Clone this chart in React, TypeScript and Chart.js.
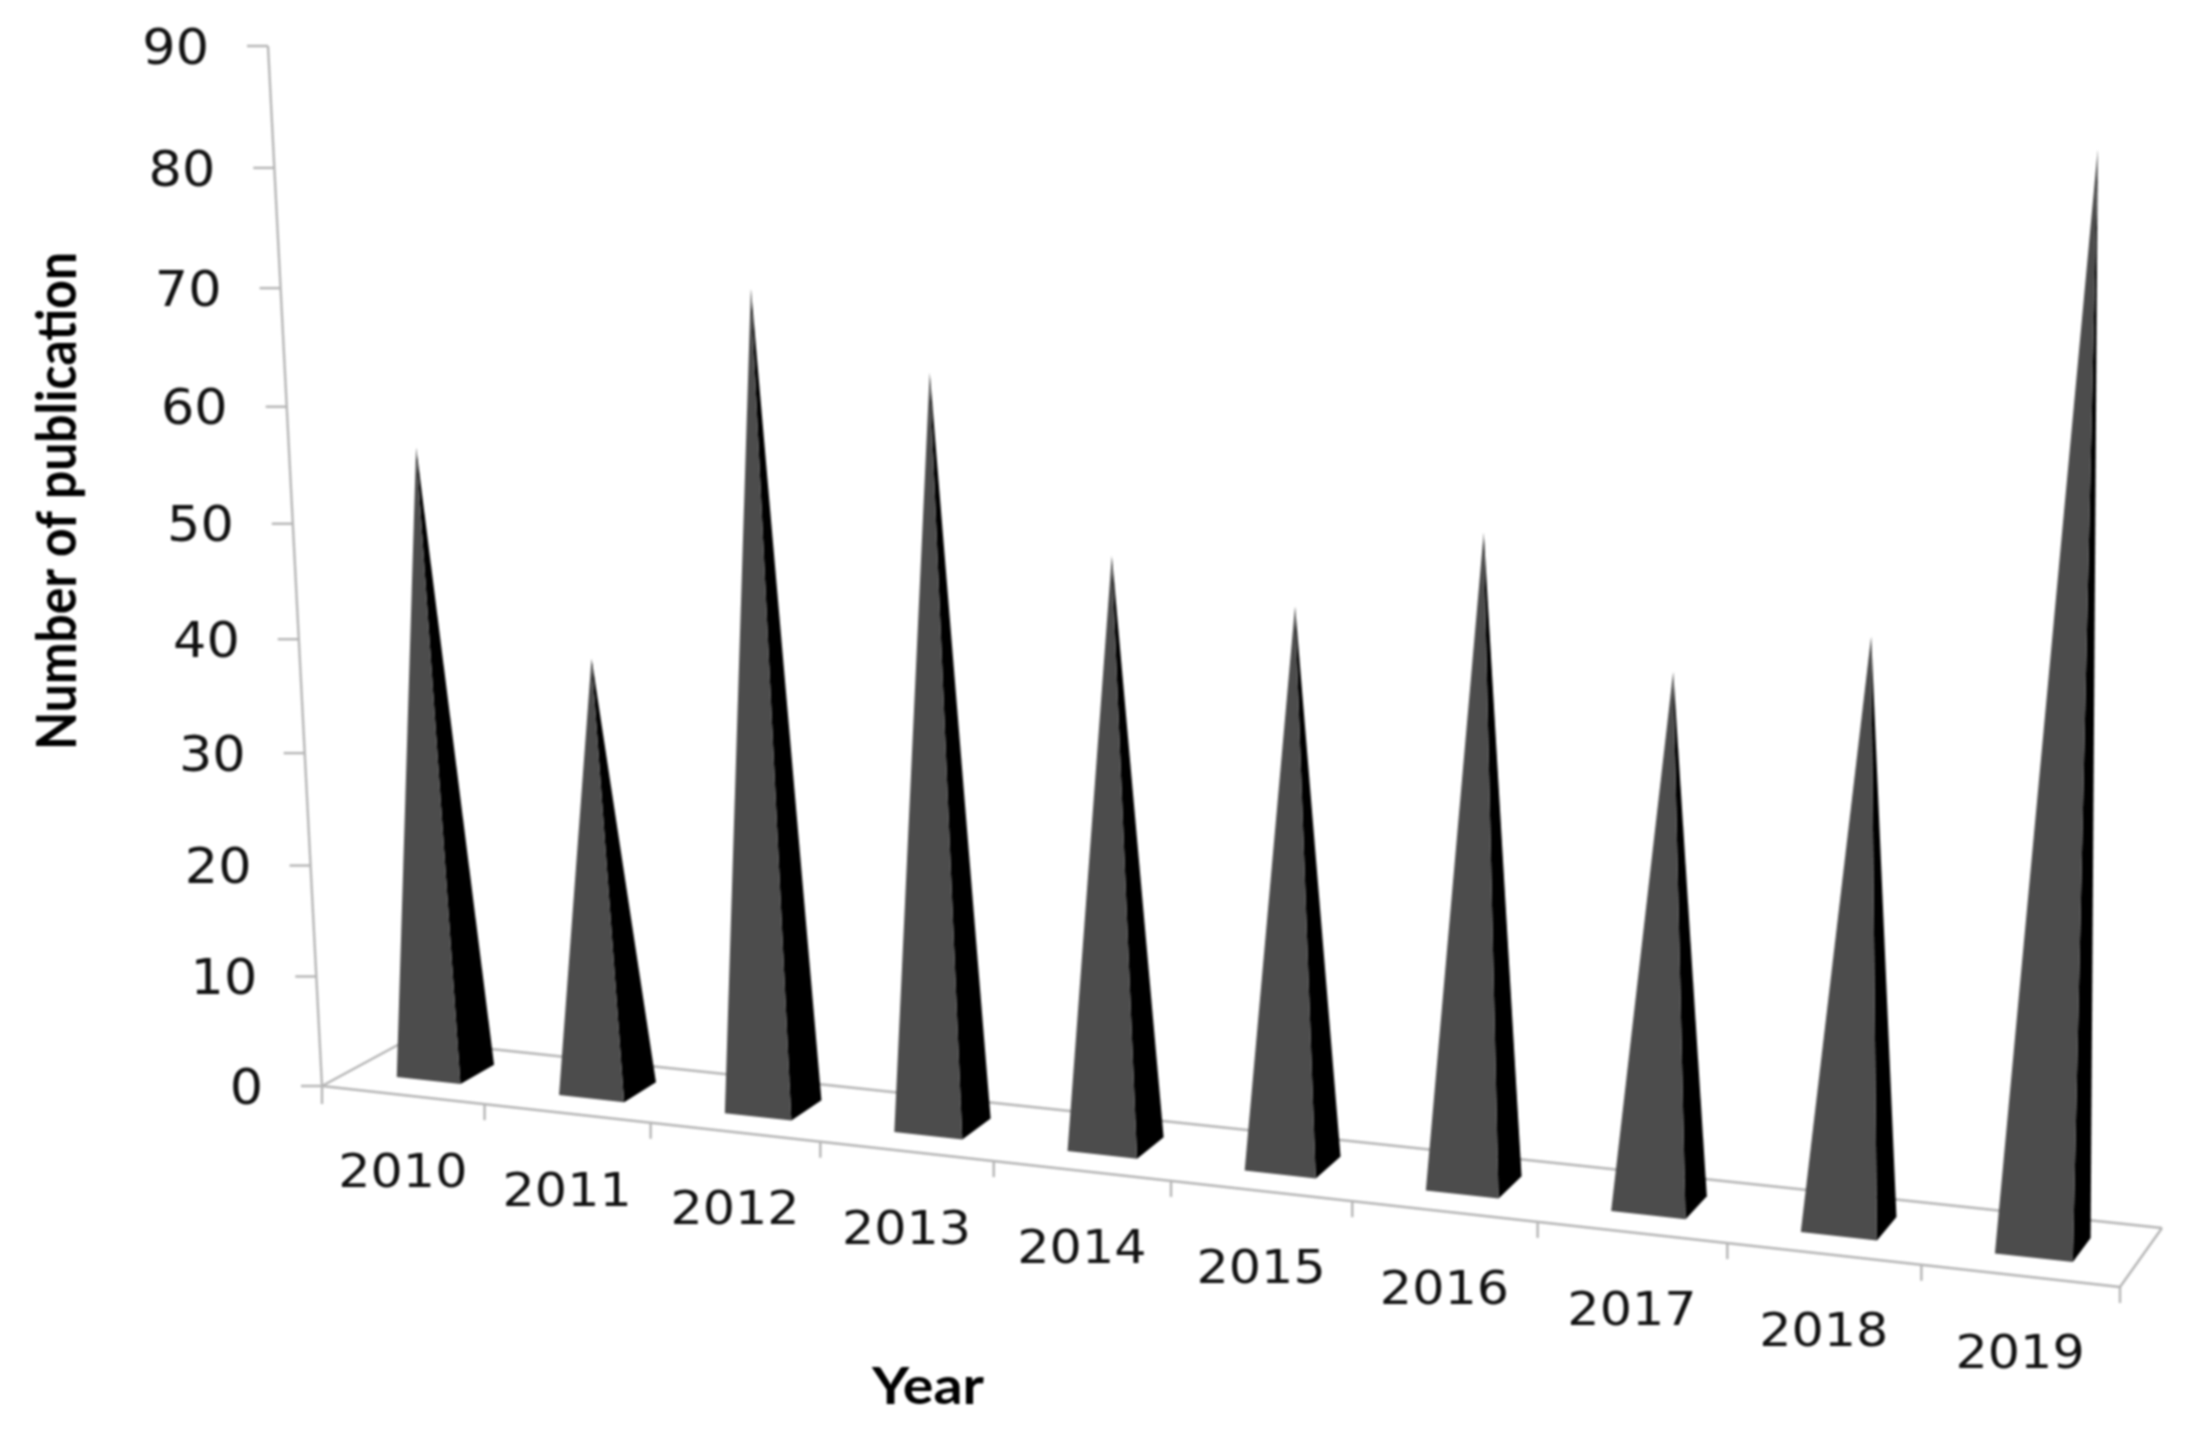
import React, { useEffect, useRef } from "react";
import { Chart, registerables } from "chart.js";

Chart.register(...registerables);

const years = ["2010", "2011", "2012", "2013", "2014", "2015", "2016", "2017", "2018", "2019"];
const publications = [55, 38, 70, 64, 50, 47, 54, 44, 48, 86];
const xTitle = "Year";
const yTitle = "Number of publication";
const yMax = 90;
const yStep = 10;

// Picture plane of the 3-D view: corners of the front wall and floor depth vectors
const WALL = { bl: [322, 1086], br: [2120, 1287], tr: [2185, 130], tl: [268, 46] };
const DEPTH_L = [85, -46];
const DEPTH_R = [42, -59];
const BASE_FRONT = 0.31;
const BASE_BACK = 0.72;
const LINE = "#b5b5b5";

function makeHomography() {
  const [x0, y0] = WALL.bl, [x1, y1] = WALL.br, [x2, y2] = WALL.tr, [x3, y3] = WALL.tl;
  const dx1 = x1 - x2, dx2 = x3 - x2, sx = x0 - x1 + x2 - x3;
  const dy1 = y1 - y2, dy2 = y3 - y2, sy = y0 - y1 + y2 - y3;
  const den = dx1 * dy2 - dx2 * dy1;
  const g = (sx * dy2 - dx2 * sy) / den;
  const h = (dx1 * sy - sx * dy1) / den;
  const a = x1 - x0 + g * x1, b = x3 - x0 + h * x3;
  const d = y1 - y0 + g * y1, e = y3 - y0 + h * y3;
  return (u: number, v: number, depth = 0) => {
    const w = g * u + h * v + 1;
    const X = (a * u + b * v + x0) / w;
    const Y = (d * u + e * v + y0) / w;
    return [
      X + depth * (DEPTH_L[0] + (DEPTH_R[0] - DEPTH_L[0]) * u),
      Y + depth * (DEPTH_L[1] + (DEPTH_R[1] - DEPTH_L[1]) * u),
    ];
  };
}
const project = makeHomography();

function poly(ctx: CanvasRenderingContext2D, pts: number[][], fill: string) {
  ctx.beginPath();
  pts.forEach((p, i) => (i ? ctx.lineTo(p[0], p[1]) : ctx.moveTo(p[0], p[1])));
  ctx.closePath();
  ctx.fillStyle = fill;
  ctx.fill();
}
function seg(ctx: CanvasRenderingContext2D, a: number[], b: number[]) {
  ctx.beginPath();
  ctx.moveTo(a[0], a[1]);
  ctx.lineTo(b[0], b[1]);
  ctx.stroke();
}
function stretched(ctx: CanvasRenderingContext2D, text: string, x: number, y: number, sx: number) {
  ctx.save();
  ctx.translate(x, y);
  ctx.scale(sx, 1);
  ctx.fillText(text, 0, 0);
  ctx.restore();
}
function fitted(ctx: CanvasRenderingContext2D, text: string, width: number) {
  stretched(ctx, text, 0, 0, width / ctx.measureText(text).width);
}

const view3d = {
  id: "view3d",
  beforeDatasetsDraw(chart: any) {
    const { ctx, chartArea: ca, scales } = chart;
    const U = (px: number) => (px - ca.left) / (ca.right - ca.left);
    const V = (px: number) => (ca.bottom - px) / (ca.bottom - ca.top);
    ctx.save();
    ctx.strokeStyle = LINE;
    ctx.lineWidth = 2.4;
    // floor
    seg(ctx, project(0, 0), project(1, 0));
    seg(ctx, project(0, 0), project(0, 0, 1));
    seg(ctx, project(0, 0, 1), project(1, 0, 1));
    seg(ctx, project(1, 0), project(1, 0, 1));
    // value axis
    seg(ctx, project(0, 0), project(0, 1));
    ctx.fillStyle = "#111";
    ctx.font = "49px 'DejaVu Sans'";
    ctx.textAlign = "right";
    ctx.textBaseline = "middle";
    scales.y.ticks.forEach((t: any) => {
      const p = project(0, V(scales.y.getPixelForValue(t.value)));
      seg(ctx, [p[0] - 21, p[1]], p);
      stretched(ctx, String(t.value), p[0] - 59, p[1] + 5, 1.07);
    });
    // category axis
    const cell = (ca.right - ca.left) / years.length;
    seg(ctx, project(0, 0), [project(0, 0)[0], project(0, 0)[1] + 18]);
    ctx.font = "47px 'DejaVu Sans'";
    ctx.textAlign = "center";
    years.forEach((year, i) => {
      const px = scales.x.getPixelForTick(i);
      const end = project(U(px + cell / 2), 0);
      seg(ctx, end, [end[0], end[1] + 16]);
      const mid = project(U(px), 0);
      stretched(ctx, year, mid[0], mid[1] + 80, 1.08);
    });
    // titles
    ctx.fillStyle = "#000";
    ctx.font = "bold 52px Lato";
    ctx.translate(928, 1387);
    fitted(ctx, xTitle, 112);
    ctx.setTransform(1, 0, 0, 1, 0, 0);
    ctx.font = "bold 55px Lato";
    ctx.translate(58, 501);
    ctx.rotate(-Math.PI / 2);
    fitted(ctx, yTitle, 498);
    ctx.restore();
  },
  afterDatasetsDraw(chart: any) {
    const { ctx, chartArea: ca } = chart;
    const U = (px: number) => (px - ca.left) / (ca.right - ca.left);
    const V = (px: number) => (ca.bottom - px) / (ca.bottom - ca.top);
    ctx.save();
    chart.getDatasetMeta(0).data.forEach((bar: any) => {
      const { x, y, width } = bar.getProps(["x", "y", "width"], true);
      const uL = U(x - width / 2), uR = U(x + width / 2), uC = U(x);
      const FL = project(uL, 0, BASE_FRONT);
      const FR = project(uR, 0, BASE_FRONT);
      const BR = project(uR, 0, BASE_BACK);
      const apex = project(uC, V(y), (BASE_FRONT + BASE_BACK) / 2);
      poly(ctx, [FR, BR, apex], "#000000");
      poly(ctx, [FL, FR, apex], "#4c4c4c");
    });
    ctx.restore();
  },
};

export default function App() {
  const ref = useRef<HTMLCanvasElement>(null);
  useEffect(() => {
    const chart = new Chart(ref.current!, {
      type: "bar",
      data: {
        labels: years,
        datasets: [{
          label: yTitle,
          data: publications,
          backgroundColor: "rgba(0,0,0,0)",
          barPercentage: 0.395,
          categoryPercentage: 1,
        }],
      },
      options: {
        animation: false,
        responsive: false,
        devicePixelRatio: 1,
        layout: { padding: 100 },
        plugins: { legend: { display: false }, tooltip: { enabled: false } },
        scales: {
          x: { display: false, offset: true },
          y: { display: false, min: 0, max: yMax, ticks: { stepSize: yStep } },
        },
      },
      plugins: [view3d],
    } as any);
    return () => chart.destroy();
  }, []);
  return (
    <div style={{ position: "absolute", left: 0, top: 0, width: 2197, height: 1432, background: "#fff" }}>
      <canvas ref={ref} width={2197} height={1432} style={{ display: "block", filter: "blur(0.8px)" }} />
    </div>
  );
}
